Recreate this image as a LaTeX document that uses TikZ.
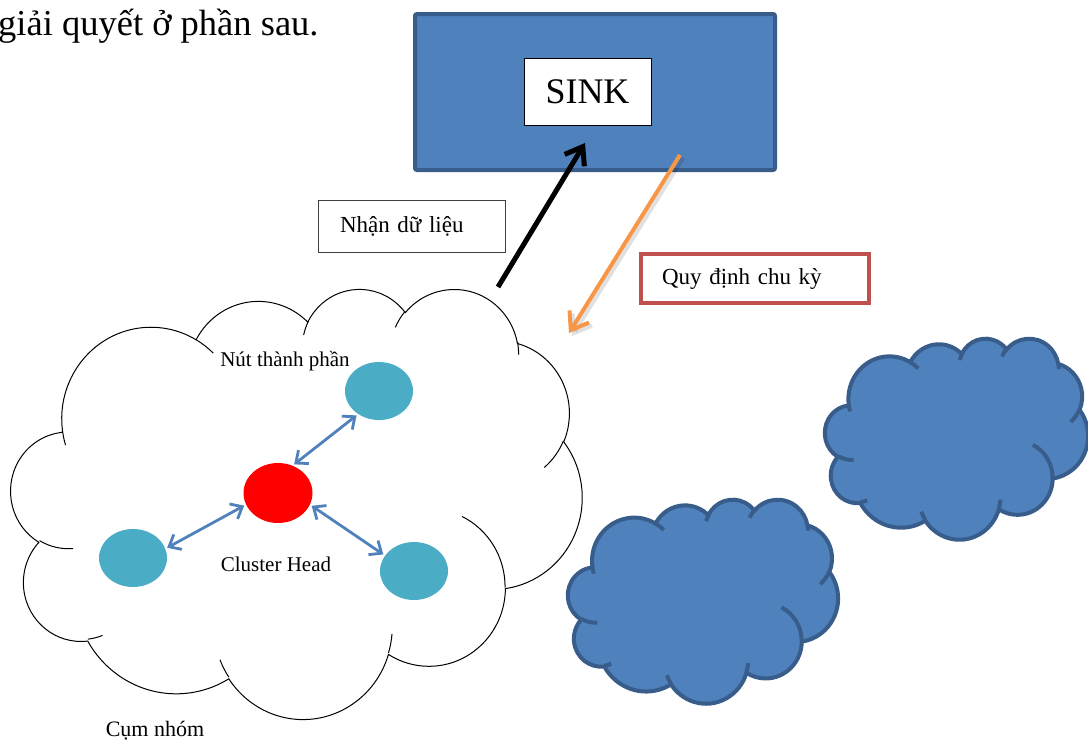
\documentclass[tikz,border=0pt]{standalone}
\usepackage{fontspec}
\setmainfont{Liberation Serif}
\usetikzlibrary{arrows.meta,shapes.geometric}

\definecolor{accblue}{HTML}{4F81BD}
\definecolor{accblueline}{HTML}{385D8A}
\definecolor{nodeteal}{HTML}{4BACC6}
\definecolor{ruleorange}{HTML}{F79646}
\definecolor{boxred}{HTML}{C0504D}

\tikzset{
  % elliptical arc given by radii, visual start angle and sweep
  oa/.style n args={4}{x radius=#1, y radius=#2,
    start angle={atan2((#1)*sin(#3),(#2)*cos(#3))},
    delta angle={mod(atan2((#1)*sin((#3)+(#4)),(#2)*cos((#3)+(#4)))-atan2((#1)*sin(#3),(#2)*cos(#3))+720,360)}},
  member/.style={ellipse, fill=nodeteal, minimum width=68pt, minimum height=58pt, inner sep=0pt},
  link/.style={draw=accblue, line width=2.8pt,
    {Straight Barb[length=10pt,width=17pt]}-{Straight Barb[length=10pt,width=17pt]},
    shorten <=2pt, shorten >=2pt},
  bigtip/.style={-{Straight Barb[length=16pt,width=23pt]}},
  lbl/.style={font=\fontsize{21}{24}\selectfont, inner sep=0pt},
}

% cloud outline in a 432 x 432 frame placed at (#1,#2) with size #3 x #4
\newcommand\cloudshape[5]{%
  \pgfmathsetmacro\cldsx{#3/432}%
  \pgfmathsetmacro\cldsy{#4/432}%
  \begin{scope}[shift={(#1,#2)}, x=\cldsx pt, y=-\cldsy pt]
    \path[#5] (39.00,143.70)
      arc[oa={67.53}{91.90}{-190.4875}{123.7805}]
      arc[oa={53.33}{72.67}{-144.1024}{89.9452}]
      arc[oa={43.65}{59.45}{-145.8079}{99.7230}]
      arc[oa={48.57}{65.95}{-130.9861}{117.2417}]
      arc[oa={53.33}{72.73}{-78.7089}{109.0269}]
      arc[oa={67.75}{92.20}{-46.2673}{130.2690}]
      arc[oa={57.85}{78.67}{0.6250}{114.0333}]
      arc[oa={67.52}{92.15}{22.4516}{115.1726}]
      arc[oa={77.20}{105.43}{66.2426}{75.7110}]
      arc[oa={43.60}{59.18}{-274.9421}{146.7356}]
      arc[oa={43.45}{59.45}{-246.8285}{152.5189}]
      -- cycle;
    \path[#5, fill=none]
      (46.93,261.77) arc[oa={43.45}{59.45}{86.742}{26.4295}]
      (69.28,348.99) arc[oa={43.60}{59.18}{73.6105}{11.4475}]
      (164.78,390.90) arc[oa={67.52}{92.15}{137.6242}{14.0811}]
      (288.27,347.51) arc[oa={67.52}{92.15}{6.4533}{15.9984}]
      (341.29,229.54) arc[oa={57.85}{78.67}{-70.2924}{70.9174}]
      (417.98,153.54) arc[oa={53.33}{72.73}{30.318}{27.7515}]
      (383.24,54.26) arc[oa={48.57}{65.95}{-13.7443}{14.8589}]
      (290.78,39.52) arc[oa={48.57}{65.95}{-149.1815}{18.1954}]
      (221.41,47.20) arc[oa={43.65}{59.45}{-163.4943}{17.6864}]
      (140.00,51.92) arc[oa={67.53}{91.90}{-66.7070}{12.3194}]
      (41.27,157.89) arc[oa={67.53}{91.90}{157.6544}{11.8582}];
  \end{scope}}

\begin{document}
\begin{tikzpicture}[x=1pt, y=-1pt]
  \useasboundingbox (0,0) rectangle (1088,742);

  % running text line at the top
  \node[anchor=base west, inner sep=0pt, font=\fontsize{36.5}{40}\selectfont] (toptext) at (-2,35) {giải quyết ở phần sau.};

  % clouds
  \cloudshape{11}{288}{571}{430}{draw=black, fill=white, line width=1pt}
  \cloudshape{825}{338}{263}{201}{draw=accblueline, fill=accblue, line width=4pt}
  \cloudshape{568}{499}{270}{204}{draw=accblueline, fill=accblue, line width=4pt}

  % sink
  \node[draw=accblueline, line width=4pt, fill=accblue, rounded corners=2pt,
        minimum width=360pt, minimum height=156pt, inner sep=0pt] (sinkbg) at (595,92) {};
  \node[draw=black, line width=1pt, fill=white, minimum width=127pt, minimum height=67pt,
        inner sep=0pt, font=\fontsize{36}{40}\selectfont] (sink) at (587.5,91.5) {SINK};

  % labelled boxes
  \node[draw=black!75, line width=1pt, text width=143pt, inner xsep=22pt, minimum height=52pt,
        align=left, font=\fontsize{23}{28}\selectfont] (recv) at (411.5,226) {Nhận dữ liệu};
  \node[draw=boxred, line width=4pt, text width=186pt, inner xsep=21pt, minimum height=49pt,
        align=left, font=\fontsize{23}{28}\selectfont] (period) at (755,278.5) {Quy định chu kỳ};

  % data and control arrows
  \coordinate (datafrom) at (498,287);
  \coordinate (datato) at (585,143);
  \coordinate (rulefrom) at (680,155);
  \coordinate (ruleto) at (569,333);
  \draw[line width=4pt, black, opacity=0.12, bigtip]
    ([shift={(3,3)}]rulefrom) -- ([shift={(3,3)}]ruleto);
  \draw[line width=4pt, ruleorange, bigtip] (rulefrom) -- (ruleto);
  \draw[line width=5pt, black, bigtip] (datafrom) -- (datato);

  % cluster members and head
  \node[member] (ntop) at (379,391) {};
  \node[member] (nleft) at (133,558) {};
  \node[member] (nright) at (414,571) {};
  \node[ellipse, fill=red, minimum width=69pt, minimum height=60pt, inner sep=0pt] (head) at (278,493) {};

  \draw[link] (head.62) -- (ntop.228);
  \draw[link] (head.200) -- (nleft.16);
  \draw[link] (head.-20) -- (nright.152);

  % labels
  \node[lbl] (lbltop) at (285,361) {Nút thành phần};
  \node[lbl] (lblhead) at (276,564) {Cluster Head};
  \node[lbl, font=\fontsize{22}{26}\selectfont] (lblgroup) at (155,731) {Cụm nhóm};
\end{tikzpicture}
\end{document}
